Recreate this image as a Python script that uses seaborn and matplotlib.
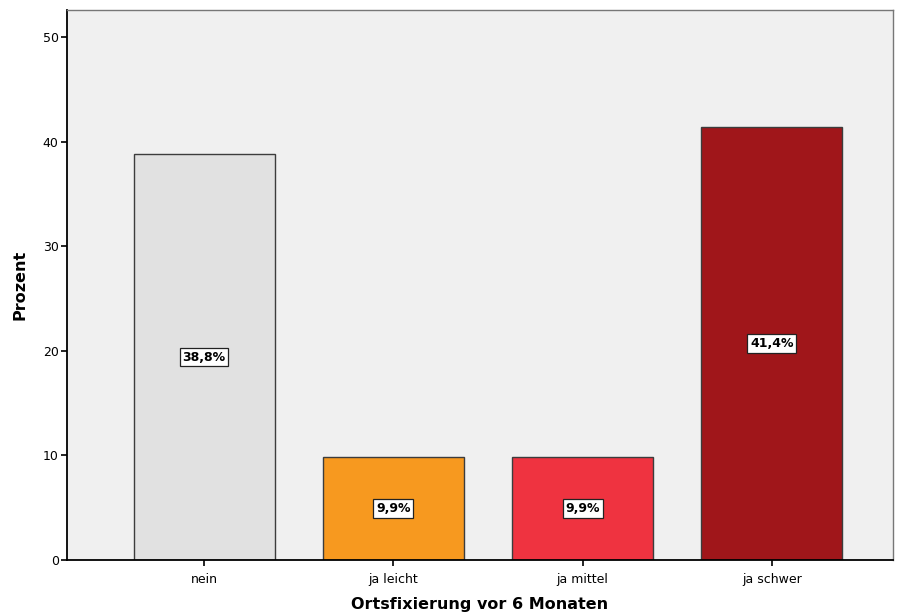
import matplotlib
matplotlib.use("Agg")
import matplotlib.pyplot as plt
import seaborn as sns
import pandas as pd

categories = ["nein", "ja leicht", "ja mittel", "ja schwer"]
prozent = [38.8, 9.9, 9.9, 41.4]
labels = ["38,8%", "9,9%", "9,9%", "41,4%"]
colors = ["#e1e1e1", "#f7991f", "#ef3340", "#a0161a"]

sns.set_theme(style="white")
plt.rcParams["font.family"] = ["DejaVu Sans"]
plt.rcParams["text.color"] = "black"
plt.rcParams["axes.labelcolor"] = "black"
plt.rcParams["xtick.color"] = "black"
plt.rcParams["ytick.color"] = "black"

df = pd.DataFrame({"kat": categories, "pct": prozent})

fig = plt.figure(figsize=(8.98, 6.15), dpi=100)
ax = fig.add_axes([0.0746, 0.0894, 0.9198, 0.8943])
ax.set_facecolor("#f0f0f0")

sns.barplot(data=df, x="kat", y="pct", hue="kat", palette=colors,
            legend=False, width=0.746, edgecolor="#3c3c3c", linewidth=1.0,
            saturation=1, ax=ax)

# prozentwerte mittig im balken, weisse box
for i, (v, lab) in enumerate(zip(prozent, labels)):
    ax.text(i, v / 2, lab, ha="center", va="center", fontsize=9,
            fontweight="bold", color="black",
            bbox=dict(boxstyle="square,pad=0.22", fc="white", ec="#222222", lw=0.9))

ax.set_xlim(-0.725, 3.64)
ax.set_ylim(0, 52.6)
ax.set_yticks([0, 10, 20, 30, 40, 50])
ax.tick_params(axis="both", which="major", length=4, width=1.2, color="black",
               labelsize=9, bottom=True, left=True, pad=2)
ax.tick_params(axis="x", pad=5)
ax.set_xlabel("Ortsfixierung vor 6 Monaten", fontsize=11.5, fontweight="bold", labelpad=8)
ax.set_ylabel("Prozent", fontsize=11.5, fontweight="bold", labelpad=11)

for side in ["left", "bottom"]:
    ax.spines[side].set_color("black")
    ax.spines[side].set_linewidth(1.3)
for side in ["top", "right"]:
    ax.spines[side].set_color("#777777")
    ax.spines[side].set_linewidth(1.0)

fig.savefig("out.png", dpi=100)
